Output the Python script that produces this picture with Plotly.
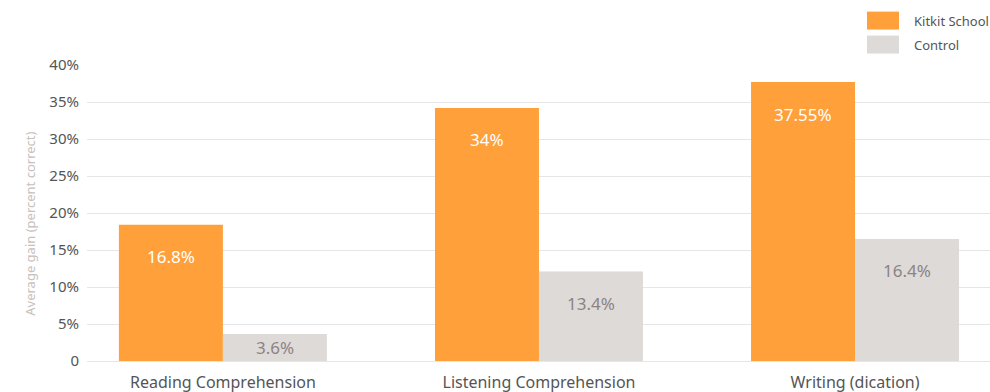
import plotly.graph_objects as go

categories = ["Reading Comprehension", "Listening Comprehension", "Writing (dication)"]
kitkit_values = [18.4, 34.2, 37.7]
control_values = [3.65, 12.1, 16.5]
kitkit_labels = ["16.8%", "34%", "37.55%"]
control_labels = ["3.6%", "13.4%", "16.4%"]
y_tickvals = [0, 5, 10, 15, 20, 25, 30, 35, 40]
y_ticktext = ["0", "5%", "10%", "15%", "20%", "25%", "30%", "35%", "40%"]

ORANGE = "#FFA03A"
GREY = "#DEDAD8"
FONT = "Noto Sans"
PX_PER_UNIT = 296.5 / 40.0

fig = go.Figure()
fig.add_trace(go.Bar(name="Kitkit School", x=categories, y=kitkit_values,
                     marker=dict(color=ORANGE, line=dict(width=0)), hoverinfo="skip"))
fig.add_trace(go.Bar(name="Control", x=categories, y=control_values,
                     marker=dict(color=GREY, line=dict(width=0)), hoverinfo="skip"))


def label_pos(v):
    if v * PX_PER_UNIT < 64:
        return v / 2.0, 0
    return v, -32


annotations = []
for i, c in enumerate(categories):
    ky, ks = label_pos(kitkit_values[i])
    cy, cs = label_pos(control_values[i])
    annotations.append(dict(x=i, xshift=-52, y=ky, yshift=ks, xref="x", yref="y",
                            text=kitkit_labels[i], showarrow=False,
                            font=dict(family=FONT, size=17, color="white")))
    annotations.append(dict(x=i, xshift=52, y=cy, yshift=cs, xref="x", yref="y",
                            text=control_labels[i], showarrow=False,
                            font=dict(family=FONT, size=17, color="#8C8484")))

# custom legend
legend_items = [("Kitkit School", ORANGE), ("Control", GREY)]
shapes = []
for j, (name, col) in enumerate(legend_items):
    y0 = 392 - 29 - j * 24
    shapes.append(dict(type="rect", xref="paper", yref="paper",
                       x0=(867 - 87) / 903, x1=(899 - 87) / 903,
                       y0=(y0 - 31) / 296.5, y1=(y0 + 18 - 31) / 296.5,
                       fillcolor=col, line=dict(width=0)))
    annotations.append(dict(xref="paper", yref="paper", x=(912 - 87) / 903,
                            y=(y0 + 9 - 31) / 296.5, xanchor="left", yanchor="middle",
                            text=name, showarrow=False,
                            font=dict(family=FONT, size=13, color="#555555")))

annotations.append(dict(xref="paper", yref="paper", x=(30 - 87) / 903, y=(361.5 - 224) / 296.5,
                        xanchor="center", yanchor="middle", textangle=-90,
                        text="Average gain (percent correct)", showarrow=False,
                        font=dict(family=FONT, size=13, color="#C8C0BC")))

fig.update_layout(
    width=990, height=392,
    margin=dict(l=87, r=0, t=65, b=31, pad=0),
    paper_bgcolor="white", plot_bgcolor="white",
    barmode="group", bargap=0.342, bargroupgap=0,
    showlegend=False,
    font=dict(family=FONT, size=15, color="#555555"),
    annotations=annotations, shapes=shapes,
    xaxis=dict(range=[-0.43, 2.427], showgrid=False, showline=False, zeroline=False,
               ticks="outside", ticklen=7, tickcolor="rgba(0,0,0,0)",
               tickfont=dict(family=FONT, size=16, color="#555555")),
    yaxis=dict(range=[0, 40], tickvals=y_tickvals, ticktext=y_ticktext,
               showgrid=True, gridcolor="#E6E6E6", gridwidth=1,
               zeroline=True, zerolinecolor="#E6E6E6", zerolinewidth=1,
               showline=False, ticks="outside", ticklen=4, tickcolor="rgba(0,0,0,0)",
               tickfont=dict(family=FONT, size=15, color="#555555")),
)

fig.write_html("out.html", config={"displayModeBar": False},
               post_script="document.body.style.margin='0';")
